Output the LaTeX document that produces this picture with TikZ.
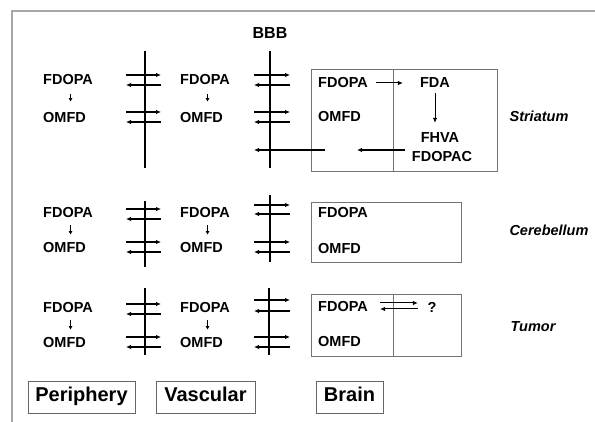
\documentclass[tikz,border=0pt]{standalone}
\usepackage{fontspec}
\setmainfont{Liberation Sans}
\usetikzlibrary{arrows.meta}
\tikzset{
  chem/.style={font=\fontsize{14.5}{16}\selectfont\bfseries, inner sep=0pt},
  region/.style={font=\fontsize{14.5}{16}\selectfont\bfseries\itshape, inner sep=0pt},
  comp/.style={draw=black!60, line width=0.9pt, font=\fontsize{20}{24}\selectfont\bfseries,
    inner sep=0pt, minimum height=32pt, text height=14.5pt, text depth=4.5pt},
  bbb/.style={line width=2.4pt},
  flux/.style={line width=1.4pt, -{Latex[length=5pt,width=4.5pt]}},
  tiny/.style={line width=1.2pt, -{Latex[length=3.5pt,width=4pt]}},
  cell/.style={draw=black!55, line width=0.8pt}
}
\begin{document}
\begin{tikzpicture}[x=1pt,y=-1pt]
  \useasboundingbox (0,0) rectangle (595,422);
  \draw[black!35, line width=1.5pt] (12,422) -- (12,11) -- (595,11);
  \node[chem, font=\fontsize{16}{18}\selectfont\bfseries] (bbb) at (270,33) {BBB};

  % periphery and vascular columns
  \node[chem, anchor=west] (pfa1) at (43,80) {FDOPA};
  \node[chem, anchor=west] (pom1) at (43,118) {OMFD};
  \node[chem, anchor=west] (vfa1) at (180,80) {FDOPA};
  \node[chem, anchor=west] (vom1) at (180,118) {OMFD};
  \node[chem, anchor=west] (pfa2) at (43,213) {FDOPA};
  \node[chem, anchor=west] (pom2) at (43,248) {OMFD};
  \node[chem, anchor=west] (vfa2) at (180,213) {FDOPA};
  \node[chem, anchor=west] (vom2) at (180,248) {OMFD};
  \node[chem, anchor=west] (pfa3) at (43,308) {FDOPA};
  \node[chem, anchor=west] (pom3) at (43,343) {OMFD};
  \node[chem, anchor=west] (vfa3) at (180,308) {FDOPA};
  \node[chem, anchor=west] (vom3) at (180,343) {OMFD};
  \draw[tiny, shorten <=9pt, shorten >=11pt] ([xshift=2.5pt]pfa1.south) -- ([xshift=2.5pt]pfa1.south |- pom1.north);
  \draw[tiny, shorten <=9pt, shorten >=11pt] ([xshift=2.5pt]vfa1.south) -- ([xshift=2.5pt]vfa1.south |- vom1.north);
  \draw[tiny, shorten <=7pt, shorten >=8pt] ([xshift=2.5pt]pfa2.south) -- ([xshift=2.5pt]pfa2.south |- pom2.north);
  \draw[tiny, shorten <=7pt, shorten >=8pt] ([xshift=2.5pt]vfa2.south) -- ([xshift=2.5pt]vfa2.south |- vom2.north);
  \draw[tiny, shorten <=7pt, shorten >=8pt] ([xshift=2.5pt]pfa3.south) -- ([xshift=2.5pt]pfa3.south |- pom3.north);
  \draw[tiny, shorten <=7pt, shorten >=8pt] ([xshift=2.5pt]vfa3.south) -- ([xshift=2.5pt]vfa3.south |- vom3.north);

  % barriers
  \draw[bbb] (145,51) -- (145,168);
  \draw[bbb] (270,51) -- (270,168);
  \draw[bbb] (145,201) -- (145,267);
  \draw[bbb] (270,195) -- (270,262);
  \draw[bbb] (145,288) -- (145,355);
  \draw[bbb] (269,288) -- (269,355);
  \foreach \a/\b in {75/85,112/122,209/219,242/252,304/314,337/347} {
    \draw[flux] (126,\a) -- (161,\a);
    \draw[flux] (161,\b) -- (126,\b);
  }
  \foreach \a/\b in {75/85,112/122,205/214,242/252,300/311,337/347} {
    \draw[flux] (254,\a) -- (290,\a);
    \draw[flux] (290,\b) -- (254,\b);
  }

  % striatum
  \draw[cell] (311,69) rectangle (497,171);
  \draw[cell] (393,69) -- (393,171);
  \node[chem, anchor=west] (sfa) at (318,83) {FDOPA};
  \node[chem, anchor=west] (som) at (318,117) {OMFD};
  \node[chem] (fda) at (435,83) {FDA};
  \node[chem] (fhva) at (440,138) {FHVA};
  \node[chem] (fdopac) at (442,157) {FDOPAC};
  \draw[flux, line width=1pt, shorten <=8pt, shorten >=17pt] (sfa.east) -- (fda.west);
  \draw[flux, line width=1pt, shorten <=5pt, shorten >=10pt] (fda.south) -- (fda.south |- fhva.north);
  \coordinate (out1) at (405,150);
  \coordinate (out2) at (357,150);
  \coordinate (out3) at (325,150);
  \coordinate (out4) at (254,150);
  \draw[flux] (out1) -- (out2);
  \draw[flux] (out3) -- (out4);
  \node[region] (str) at (539,116) {Striatum};

  % cerebellum
  \draw[cell] (311,202) rectangle (461,262);
  \node[chem, anchor=west] (cfa) at (318,213) {FDOPA};
  \node[chem, anchor=west] (com) at (318,249) {OMFD};
  \node[region] (cer) at (549,230) {Cerebellum};

  % tumor
  \draw[cell] (311,294) rectangle (461,356);
  \draw[cell] (393,294) -- (393,356);
  \node[chem, anchor=west] (tfa) at (318,307) {FDOPA};
  \node[chem, anchor=west] (tom) at (318,342) {OMFD};
  \node[chem] (unk) at (432,307) {?};
  \draw[flux, line width=1pt, shorten <=12pt, shorten >=9.5pt] ([yshift=4pt]tfa.east) -- ([yshift=4pt]unk.west);
  \draw[flux, line width=1pt, shorten <=9.5pt, shorten >=12pt] ([yshift=-2pt]unk.west) -- ([yshift=-2pt]tfa.east);
  \node[region] (tum) at (533,327) {Tumor};

  % compartments
  \node[comp, minimum width=107pt] (per) at (81.5,397) {Periphery};
  \node[comp, minimum width=99pt] (vas) at (205.5,397) {Vascular};
  \node[comp, minimum width=67pt] (bra) at (349.5,397) {Brain};
\end{tikzpicture}
\end{document}
